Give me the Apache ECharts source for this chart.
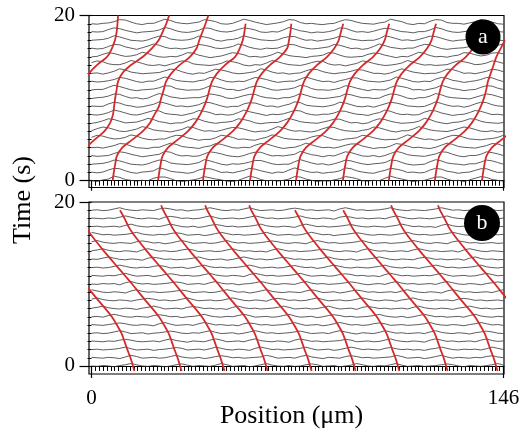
<!DOCTYPE html>
<html><head><meta charset="utf-8">
<script src="https://cdn.jsdelivr.net/npm/echarts/dist/echarts.min.js"></script>
<style>html,body{margin:0;padding:0;background:#fff}#c{width:523px;height:433px}</style>
</head><body><div id="c"></div>
<script>
// sample positions of every profile (µm)
const positions = [0,2,4,6,8,10,12,14,16,18,20,22,24,26,28,30,32,34,36,38,40,42,44,46,48,50,52,54,56,58,60,62,64,66,68,70,72,74,76,78,80,82,84,86,88,90,92,94,96,98,100,102,104,106,108,110,112,114,116,118,120,122,124,126,128,130,132,134,136,138,140,142,144,146];
const traceTimesA = [0,1,2,3,4,5,6,7,8,9,10,11,12,13,14,15,16,17,18,19];
const traceTimesB = [0,1,2,3,4,5,6,7,8,9,10,11,12,13,14,15,16,17,18,19];
// profile deviations (s) of panel a, one row per time
const tracesA = [
[0,-.1,.1,.2,.55,.4,.15,.05,-.05,.05,0,.3,.45,.45,.25,0,-.1,0,.1,.25,.5,.35,.2,.1,-.05,-.1,.05,.3,.55,.4,.15,0,.05,-.05,.05,.2,.5,.45,.2,.05,-.1,0,-.05,.1,.25,.5,.4,.25,0,-.05,.05,0,.3,.55,.35,.2,.05,-.1,0,.05,.25,.45,.45,.2,0,.05,-.1,.1,.3,.5,.4,.15,.05,-.05],
[.05,-.05,.05,.3,.5,.45,.2,0,-.1,.05,.1,.2,.55,.4,.15,.05,0,-.1,0,.3,.45,.45,.25,0,.05,-.05,.1,.25,.5,.4,.2,.05,-.1,.05,0,.3,.55,.35,.15,0,.05,-.1,0,.05,.2,.55,.45,.2,.05,-.05,-.1,.1,.25,.5,.4,.25,0,.05,-.05,0,.3,.5,.4,.15,.05,-.1,0,.05,.25,.45,.45,.2,0,.05],
[0,.05,.1,.25,.5,.4,.2,0,-.05,-.1,.05,.3,.5,.45,.15,.05,0,-.05,.05,.2,.55,.4,.2,0,-.1,.05,0,.1,.25,.45,.45,.25,.05,-.05,0,0,.3,.55,.35,.15,0,.05,-.1,.05,.25,.5,.4,.2,.05,-.05,.05,.1,.2,.5,.45,.2,0,-.1,-.05,0,.3,.55,.4,.15,.05,0,-.1,.05,.05,.25,.5,.4,.2,0],
[.05,-.05,0,.05,.3,.5,.4,.2,.05,-.1,0,.1,.2,.55,.45,.15,0,.05,-.05,0,.25,.5,.4,.25,.05,-.05,-.1,.05,.3,.45,.45,.2,0,.05,0,.1,.2,.55,.35,.15,.05,-.1,.05,0,.25,.5,.4,.2,0,-.05,.05,-.1,.05,.3,.55,.4,.15,.05,0,-.05,.1,.25,.5,.45,.2,0,-.1,.05,.05,.2,.5,.4,.25,.05],
[0,.05,-.05,.1,.25,.5,.45,.2,0,-.05,-.1,.05,.05,.3,.55,.4,.15,.05,0,-.1,.1,.2,.5,.4,.2,0,-.05,.05,0,.3,.5,.45,.25,.05,-.1,0,.05,.25,.55,.35,.15,0,.05,-.05,.1,.3,.45,.45,.2,.05,-.1,0,0,.2,.5,.4,.2,0,.05,-.05,-.1,.05,.3,.55,.4,.15,.05,0,-.05,.1,.25,.5,.45,.2],
[.25,.5,.4,.2,.05,.1,.25,.55,.4,.15,0,-.05,.05,.05,.3,.5,.45,.2,.05,-.1,0,0,.2,.5,.4,.25,0,.05,-.05,-.1,.1,.25,.55,.4,.15,.05,0,-.05,.05,.3,.45,.45,.2,0,-.1,.05,.1,.2,.5,.4,.2,.05,-.05,0,0,.25,.55,.35,.15,0,.05,-.1,.05,.3,.5,.45,.25,.05,0,-.05,.05,.1,.25,.5],
[.05,.3,.5,.4,.2,0,-.05,.1,.25,.55,.4,.15,.05,0,-.1,.05,.2,.5,.45,.2,0,.05,-.05,.1,.3,.45,.4,.25,.05,-.1,0,0,.25,.55,.4,.15,0,.05,-.05,-.1,.05,.3,.5,.45,.2,.05,0,-.05,.1,.2,.5,.4,.2,0,-.1,.05,.05,.25,.55,.35,.15,.05,0,-.05,.1,.3,.5,.4,.2,0,-.05,.05,-.1,0],
[-.05,.05,.25,.5,.4,.2,0,.05,.1,.3,.55,.4,.15,.05,-.1,0,0,.25,.5,.45,.2,.05,-.05,.05,.1,.2,.5,.4,.25,0,-.1,0,.05,.05,.3,.55,.35,.15,.05,0,-.05,.1,.25,.45,.45,.2,0,.05,-.1,0,.3,.5,.4,.2,.05,-.05,0,.05,.2,.55,.4,.15,0,-.1,.05,.1,.25,.5,.45,.2,.05,0,-.05,.05],
[0,-.05,.05,.25,.55,.4,.2,0,-.05,.1,.3,.5,.45,.15,.05,0,-.1,.05,.2,.5,.4,.25,0,.05,-.05,0,.25,.55,.35,.2,.05,-.1,.05,0,.1,.3,.5,.45,.15,0,-.05,.05,.05,.2,.45,.4,.2,.05,0,-.1,.1,.25,.55,.4,.15,0,.05,-.05,0,.3,.5,.45,.2,.05,-.1,0,.05,.25,.5,.4,.2,0,.05,-.05],
[.05,0,0,.3,.5,.4,.15,.05,-.1,-.05,.1,.25,.55,.4,.2,0,.05,-.05,.05,.2,.5,.45,.25,.05,-.1,0,0,.3,.45,.4,.2,0,.05,-.1,.1,.25,.55,.45,.15,.05,0,-.05,.05,.2,.5,.4,.2,0,-.05,.05,-.1,.1,.3,.5,.4,.25,.05,0,-.05,0,.25,.55,.35,.15,0,.05,-.1,.05,.3,.5,.45,.2,.05,0],
[-.05,.05,.1,.25,.5,.45,.2,0,.05,-.1,0,.3,.55,.4,.15,.05,-.05,0,.05,.05,.2,.5,.4,.25,0,-.05,.1,.3,.45,.45,.2,.05,0,-.1,.05,.05,.25,.55,.35,.15,0,-.05,0,.1,.2,.5,.4,.2,.05,.05,-.05,0,.3,.5,.45,.25,0,-.1,.05,.05,.25,.55,.4,.15,.05,0,-.05,-.1,.1,.3,.5,.4,.2,0],
[0,.05,.05,.3,.55,.4,.2,0,-.1,0,.05,.1,.25,.5,.45,.15,.05,-.05,0,0,.2,.5,.4,.25,.05,.05,-.1,.05,.3,.45,.4,.2,0,-.05,.05,.1,.25,.55,.45,.15,0,0,-.05,.05,.2,.5,.4,.2,.05,-.1,.05,0,0,.3,.5,.4,.25,0,.05,-.05,.1,.25,.55,.35,.15,.05,-.1,0,.05,.3,.5,.45,.2,.05],
[.05,-.05,0,.1,.25,.5,.4,.2,0,-.1,.05,.05,.3,.55,.4,.15,.05,0,-.05,.1,.2,.5,.45,.2,0,-.05,.05,0,.25,.5,.4,.25,.05,-.1,0,.05,.05,.3,.55,.35,.15,0,.05,-.1,.1,.25,.45,.45,.2,.05,0,-.05,.05,.2,.55,.4,.2,0,-.05,.05,0,.3,.5,.4,.15,.05,-.1,0,.1,.25,.5,.45,.2,0],
[0,.05,-.1,.05,.25,.55,.4,.15,.05,-.05,0,.05,.1,.3,.5,.45,.2,0,-.1,.05,0,.25,.5,.4,.25,.05,-.05,0,.1,.2,.55,.4,.15,0,.05,-.1,0,.05,.3,.5,.45,.2,.05,-.05,.05,.1,.25,.45,.4,.2,0,0,-.1,.05,.3,.55,.35,.15,.05,-.05,0,0,.2,.5,.45,.25,0,.05,-.05,.1,.25,.5,.4,.2],
[.3,.5,.4,.15,.05,.05,.25,.55,.4,.2,0,-.05,.05,-.1,.1,.3,.5,.45,.15,.05,0,-.05,.05,.2,.5,.4,.25,0,-.1,.05,0,.25,.55,.4,.2,.05,0,-.05,.1,.3,.45,.45,.15,0,.05,-.1,.05,.2,.5,.4,.2,.05,-.05,0,.1,.25,.55,.35,.15,0,.05,-.05,0,.05,.3,.5,.4,.25,.05,.1,.25,.5,.4,.2],
[0,.05,.3,.5,.4,.2,.05,.1,.25,.55,.4,.15,0,-.05,.05,0,.2,.5,.45,.2,.05,-.1,0,.1,.3,.5,.4,.25,0,.05,-.05,.05,.25,.55,.35,.15,.05,0,-.1,.05,.1,.2,.5,.45,.2,0,-.05,0,.05,.3,.45,.4,.2,.05,-.1,.05,0,.25,.55,.4,.15,0,.05,-.05,.1,.2,.5,.45,.25,.1,.2,.45,.5,.35],
[.05,-.05,0,.25,.5,.45,.2,.05,-.1,.1,.3,.55,.4,.15,0,.05,-.05,.05,.2,.5,.4,.25,.05,0,.1,.25,.55,.4,.15,0,-.1,.05,0,.05,.3,.5,.45,.2,.05,-.05,0,.1,.2,.5,.4,.2,0,.05,-.1,0,.25,.55,.35,.15,.05,-.05,.05,.05,.3,.5,.45,.2,0,-.1,0,.05,.1,.25,.5,.4,.3,.25,.4,.55],
[0,.05,.1,.25,.55,.4,.2,0,-.05,-.1,.05,.3,.5,.45,.15,.05,0,.05,.2,.5,.4,.25,0,-.1,.05,.1,.25,.55,.35,.2,.05,0,-.05,.05,.3,.45,.45,.2,0,.05,-.1,0,.1,.25,.5,.4,.15,.05,-.05,0,0,.2,.55,.4,.2,0,.05,-.05,.1,.3,.5,.45,.25,.05,-.1,0,.05,.25,.5,.4,.15,0,.05,-.05],
[.05,0,.05,.3,.5,.4,.2,.05,-.1,0,.05,.1,.25,.55,.4,.15,0,-.05,.05,.2,.5,.45,.2,.05,0,.1,.3,.5,.4,.25,0,-.05,.05,0,.25,.55,.35,.15,.05,-.1,0,-.05,.05,.2,.5,.45,.2,0,.05,-.05,.1,.3,.45,.4,.2,.05,0,-.1,.05,.05,.25,.55,.4,.15,0,-.05,.05,.1,.2,.5,.45,.25,.05,0],
[0,-.05,.05,.1,.25,.5,.45,.2,0,-.1,.05,.05,.3,.55,.4,.15,.05,0,.1,.2,.5,.4,.25,0,-.05,.05,.3,.55,.4,.2,.05,-.1,0,.1,.25,.5,.45,.15,0,.05,-.05,-.1,0,.05,.3,.5,.4,.2,.05,0,-.05,.1,.2,.55,.4,.25,0,-.1,.05,0,.3,.5,.45,.15,.05,.05,-.05,.1,.25,.5,.4,.2,0,-.05]
];
// profile deviations (s) of panel b, one row per time
const tracesB = [
[0,-.05,.05,0,-.1,.05,.15,.3,.15,0,-.05,.05,0,-.1,0,.15,.25,.1,-.05,.05,0,-.05,.1,.3,.15,-.05,0,.05,-.1,0,.15,.3,.1,0,-.05,.05,-.05,0,.15,.25,.15,-.05,0,.05,-.1,0,.1,.3,.15,0,-.05,.05,0,.15,.3,.1,-.05,0,.05,-.05,0,.05,.15,.25,.15,0,-.1,.05,0,-.05,.05,.15,.3,.1],
[.05,0,-.05,.05,0,-.1,.1,.3,.15,-.05,0,.05,-.05,0,.15,.3,.1,0,-.05,.05,-.1,0,.15,.25,.15,0,.05,-.05,0,.05,.1,.3,.15,-.05,0,.05,-.05,.15,.3,.1,0,-.1,.05,0,-.05,.15,.25,.15,0,.05,-.05,0,.05,.1,.3,.15,-.05,0,.05,-.1,0,.15,.3,.1,-.05,.05,0,-.05,.05,0,.15,.25,.1,0],
[0,.05,-.05,0,.05,.15,.3,.1,-.05,0,.05,-.1,0,.05,.15,.25,.15,-.05,0,.05,-.05,.1,.3,.15,0,-.05,.05,0,-.1,.15,.3,.15,0,.05,-.05,0,.05,.15,.3,.1,-.05,0,.05,-.1,0,.15,.3,.15,0,.05,0,-.05,.15,.25,.1,0,.05,-.05,0,-.1,.05,.15,.3,.15,0,-.05,.05,0,.05,-.05,.1,.3,.15,0],
[.05,0,-.05,.05,0,.15,.25,.15,0,-.05,0,.05,-.05,.15,.3,.1,0,-.1,.05,0,-.05,.15,.3,.15,-.05,0,.05,-.05,.15,.3,.1,0,-.05,.05,0,-.1,.15,.3,.15,0,.05,-.05,0,.05,.1,.25,.15,-.05,0,.05,-.05,0,.15,.3,.1,0,-.05,.05,0,-.1,.15,.3,.15,0,.05,-.05,0,.05,-.05,.15,.3,.1,0,.05],
[0,.05,-.05,0,.15,.3,.15,-.05,0,.05,-.1,0,.05,.15,.25,.15,0,-.05,.05,0,.15,.3,.1,-.05,0,.05,-.1,0,.15,.3,.15,0,.05,-.05,0,.05,.15,.25,.1,-.05,0,.05,-.05,.15,.3,.15,0,-.1,.05,0,-.05,.1,.3,.15,0,.05,-.05,0,.05,-.05,.15,.3,.1,0,-.05,.05,0,-.1,.05,.15,.25,.15,0,-.05],
[.05,0,-.05,.05,.15,.25,.15,0,-.05,.05,0,-.1,.15,.3,.1,-.05,0,.05,-.05,.15,.3,.15,0,.05,-.05,0,-.1,.15,.25,.15,0,.05,-.05,0,.05,.15,.3,.1,-.05,0,.05,-.1,0,.15,.3,.15,0,.05,-.05,0,.15,.25,.15,-.05,0,.05,-.05,0,.05,.15,.3,.1,0,-.05,.05,0,-.1,.05,.15,.3,.15,0,.05,-.05],
[0,.05,-.05,.15,.3,.15,0,-.05,.05,0,-.05,.15,.25,.15,0,.05,-.1,0,.05,.15,.3,.1,0,-.05,.05,0,.15,.3,.15,-.05,0,.05,-.05,0,.15,.3,.1,-.05,0,.05,-.1,0,.15,.25,.15,0,.05,-.05,0,.05,.15,.3,.1,0,-.05,.05,-.1,0,.15,.3,.15,0,.05,-.05,0,.05,-.05,.15,.3,.1,0,-.05,.05,0],
[.05,.15,.3,.1,0,-.05,.05,0,-.1,.05,.15,.3,.15,-.05,0,.05,-.05,.15,.25,.15,0,.05,-.05,0,-.1,.15,.3,.1,0,.05,-.05,0,.05,.15,.3,.15,-.05,0,.05,-.05,0,.15,.3,.1,-.05,0,.05,-.1,.15,.25,.15,0,.05,-.05,0,.05,-.05,.15,.3,.1,0,-.05,.05,0,-.1,.05,.15,.3,.15,0,.05,-.05,0,.05],
[.15,.3,.1,0,-.05,.05,0,-.1,.05,.15,.25,.15,0,.05,-.05,0,.15,.3,.1,-.05,0,.05,-.05,0,.15,.3,.15,0,-.05,.05,0,-.1,.15,.25,.15,0,.05,-.05,0,.15,.3,.1,-.05,0,.05,-.05,0,.15,.3,.15,0,-.05,.05,0,-.1,.05,.15,.3,.1,0,-.05,.05,0,.05,-.05,.15,.25,.15,0,.05,-.05,0,.05,-.05],
[.3,.15,0,-.05,.05,0,-.1,.15,.3,.1,0,.05,-.05,0,.05,.15,.25,.15,-.05,0,.05,-.05,0,.15,.3,.15,0,.05,-.1,0,.15,.3,.1,0,-.05,.05,0,-.05,.15,.3,.15,-.05,0,.05,-.1,0,.15,.25,.15,0,.05,-.05,0,.05,-.05,.15,.3,.1,0,-.05,.05,0,-.1,.15,.3,.15,0,.05,-.05,0,.05,-.05,.15,.3],
[0,-.05,.05,0,.05,-.1,.15,.3,.1,0,.05,-.05,0,.05,.15,.25,.15,-.05,0,.05,-.05,.15,.3,.1,0,.05,-.1,0,.05,.15,.3,.15,0,-.05,.05,0,-.05,.15,.3,.1,0,.05,-.05,0,.05,.15,.25,.15,0,-.1,0,.05,-.05,.15,.3,.1,0,.05,-.05,0,.05,-.05,.15,.3,.15,0,-.05,.05,0,-.1,.05,.15,.25,.15],
[.05,0,-.05,.05,0,.15,.3,.1,-.05,0,.05,-.1,0,.15,.25,.15,0,.05,-.05,0,.15,.3,.1,0,-.05,.05,0,-.1,.15,.3,.15,0,.05,-.05,0,.05,.15,.3,.1,-.05,0,.05,-.05,0,.15,.25,.15,0,.05,-.05,0,-.1,.15,.3,.15,0,.05,-.05,0,.05,0,.15,.3,.1,-.05,0,.05,-.05,0,.15,.3,.15,0,.05],
[0,.05,-.05,0,.15,.3,.15,0,-.05,.05,0,.15,.25,.15,-.05,0,.05,-.1,0,.15,.3,.1,0,.05,-.05,0,.05,.15,.3,.15,-.05,0,.05,-.05,0,.15,.25,.1,0,.05,-.1,0,.15,.3,.15,0,-.05,.05,0,-.05,.05,.15,.3,.1,0,-.05,.05,0,-.1,.05,.15,.3,.15,0,.05,-.05,0,.05,.15,.3,.1,0,-.05,.05],
[.05,0,.15,.3,.15,0,-.05,.05,0,-.1,.15,.25,.15,0,.05,-.05,0,.05,.15,.3,.1,-.05,0,.05,-.1,0,.15,.3,.15,0,.05,-.05,0,.15,.25,.15,0,.05,-.05,0,.05,.15,.3,.1,0,-.05,.05,-.1,0,.05,.15,.3,.15,0,-.05,.05,0,-.05,.15,.25,.15,0,.05,-.05,0,.05,-.1,.15,.3,.1,0,.05,-.05,0],
[.05,.15,.3,.1,0,-.05,.05,0,-.1,.15,.3,.15,0,.05,-.05,0,.15,.25,.15,-.05,0,.05,-.05,0,.15,.3,.1,0,.05,-.05,0,-.1,.15,.3,.15,0,.05,-.05,0,.05,.15,.25,.15,0,-.05,.05,0,-.1,.15,.3,.1,0,.05,-.05,0,.05,-.05,.15,.3,.15,0,.05,-.05,0,.05,-.1,.15,.3,.15,0,-.05,.05,0,-.05],
[.15,.3,.1,0,-.05,.05,0,-.05,.15,.25,.15,0,.05,-.1,0,.15,.3,.15,-.05,0,.05,-.05,0,.15,.3,.1,0,.05,-.05,0,.05,.15,.25,.15,0,-.05,.05,0,-.1,.15,.3,.15,0,.05,-.05,0,.05,.15,.3,.1,-.05,0,.05,-.05,0,.05,.15,.3,.15,0,-.05,.05,0,-.1,.15,.25,.15,0,.05,-.05,0,.05,-.05,0],
[.3,.15,0,.05,-.05,0,.05,.15,.3,.1,0,-.05,.05,0,.15,.25,.15,-.05,0,.05,-.1,0,.15,.3,.15,0,.05,-.05,0,.05,.15,.3,.1,-.05,0,.05,-.05,0,.15,.3,.15,0,.05,-.1,0,.05,.15,.25,.15,0,-.05,.05,0,-.05,.05,.15,.3,.1,0,.05,-.05,0,.05,.15,.3,.15,0,-.05,.05,0,-.1,.05,0,.05],
[0,.05,-.05,0,.05,-.05,.15,.3,.1,0,-.05,.05,0,.15,.3,.15,0,-.05,.05,-.1,0,.15,.25,.15,0,.05,-.05,0,.05,.15,.3,.1,0,-.05,.05,0,-.1,.15,.3,.15,0,.05,-.05,0,.05,.15,.25,.1,0,-.05,.05,0,-.05,.05,.15,.3,.15,0,.05,-.05,0,-.1,.15,.3,.1,0,.05,-.05,0,.05,-.05,0,.05,0],
[.05,0,-.05,.05,0,.15,.3,.15,0,-.05,.05,0,-.1,.15,.25,.15,0,.05,-.05,0,.15,.3,.1,-.05,0,.05,-.05,0,.15,.3,.15,0,.05,-.05,0,.05,.15,.3,.1,0,-.05,.05,0,-.1,.15,.25,.15,0,.05,-.05,0,.05,-.05,.15,.3,.15,0,-.05,.05,0,-.05,.05,.15,.3,.1,0,-.05,.05,0,-.05,.05,0,-.05,.05],
[0,.05,-.05,0,.15,.3,.1,0,-.05,.05,0,-.05,.15,.25,.15,0,.05,-.1,0,.05,.15,.3,.15,0,-.05,.05,0,.15,.3,.1,-.05,0,.05,-.05,0,.15,.25,.15,0,.05,-.05,0,.05,-.1,.15,.3,.15,0,.05,-.05,0,.05,.15,.3,.1,0,-.05,.05,0,-.05,.05,.15,.3,.15,0,.05,-.05,0,.05,-.1,0,.05,-.05,0]
];
// red fronts, panel a: times (s) and position (µm) of each front at those times
const redTimesA = [0,1,2,3,4,5,6,7,8,9,10,11,12,13,14,15,16,17,18,19,20];
const redPosA = [
[null,null,null,null,null,null,null,null,null,null,null,null,-2.7,-0.9,1.9,5.5,7.2,8.3,8.9,9.2,9.4],
[null,null,null,null,-2.0,1.2,4.6,6.6,7.6,8.0,8.4,8.9,9.4,10.9,14.0,18.2,21.3,23.8,25.2,26.5,27.5],
[7.5,7.9,8.4,9.0,10.9,14.6,18.2,20.7,22.3,23.9,24.7,25.6,26.4,28.3,31.2,34.9,37.2,38.2,39.3,40.4,41.4],
[23.6,24.0,24.5,25.2,27.1,30.7,34.2,36.7,38.5,39.9,41.0,41.8,42.7,44.5,47.3,50.9,52.5,53.6,54.2,54.6,null],
[39.5,39.9,40.4,41.1,43.0,46.6,50.1,52.6,54.4,55.8,56.9,57.7,58.6,60.4,63.2,66.8,69.3,70.0,70.5,70.8,null],
[56.2,56.6,57.1,57.8,59.7,63.3,66.8,69.3,71.1,72.5,73.6,74.4,75.3,77.1,79.9,83.5,86.0,87.6,88.4,89.2,null],
[72.5,72.9,73.4,74.1,76.0,79.6,83.1,85.6,87.4,88.8,89.9,90.7,91.6,93.4,96.2,99.8,102.3,103.9,104.7,105.5,null],
[89.1,89.5,90.0,90.7,92.6,96.2,99.7,102.2,104.0,105.4,106.5,107.3,108.2,110.0,112.8,116.4,118.9,120.5,121.3,122.1,null],
[105.4,105.8,106.3,107.0,108.9,112.5,116.0,118.5,120.3,121.7,122.8,123.6,124.5,126.3,129.1,132.7,135.2,136.8,137.6,138.4,null],
[121.7,122.1,122.6,123.3,125.2,128.8,132.3,134.8,136.6,138.0,139.1,139.9,140.5,141.5,142.5,143.5,145.0,146.5,null,null,null],
[138.4,138.8,139.3,140.0,141.9,145.5,149.0,null,null,null,null,null,null,null,null,null,null,null,null,null,null]
];
// red fronts, panel b
const redTimesB = [-0.6,0,1,2,3,4,5,6,7,8,9,10,11,12,13,14,15,16,17,18,19,19.6];
const redPosB = [
[15.2,14.7,13.8,12.7,11.7,10.6,9.0,7.2,4.9,2.4,0.0,-2.3,null,null,null,null,null,null,null,null,null,null],
[31.9,31.4,30.5,29.4,28.4,27.3,25.7,23.9,21.6,19.1,16.7,14.4,11.9,9.4,6.9,4.4,2.1,-0.2,-2.1,null,null,null],
[47.1,46.6,45.7,44.6,43.6,42.5,40.9,39.1,36.8,34.3,31.9,29.6,27.1,24.6,22.1,19.6,17.3,15.0,13.1,11.7,10.1,null],
[62.4,61.9,61.0,59.9,58.9,57.8,56.2,54.4,52.1,49.6,47.2,44.9,42.4,39.9,37.4,34.9,32.6,30.3,28.4,27.0,25.4,24.7],
[78.0,77.5,76.6,75.5,74.5,73.4,71.8,70.0,67.7,65.2,62.8,60.5,58.0,55.5,53.0,50.5,48.2,45.9,44.0,42.6,41.0,40.3],
[93.6,93.1,92.2,91.1,90.1,89.0,87.4,85.6,83.3,80.8,78.4,76.1,73.6,71.1,68.6,66.1,63.8,61.5,59.6,58.2,56.6,55.9],
[109.1,108.6,107.7,106.6,105.6,104.5,102.9,101.1,98.8,96.3,93.9,91.6,89.1,86.6,84.1,81.6,79.3,77.0,75.1,73.7,72.1,null],
[126.2,125.7,124.8,123.7,122.7,121.6,120.0,118.2,115.9,113.4,111.0,108.7,106.2,103.7,101.2,98.7,96.4,94.1,92.2,90.8,89.2,null],
[143.9,143.4,142.5,141.4,140.4,139.3,137.7,135.9,133.6,131.1,128.7,126.4,123.9,121.4,118.9,116.4,114.1,111.8,109.9,108.5,106.9,106.2],
[null,null,null,null,null,null,null,null,150.2,147.7,145.3,143.0,140.5,138.0,135.5,133.0,130.7,128.4,126.5,125.1,123.5,122.8]
];
const yTickLabels = [0, 20];
const xTickLabels = [0, 146];
const panelLetters = ['a', 'b'];

const SERIF = '"Liberation Serif","DejaVu Serif",serif';
const xMinor = [];
for (let i = 0; i <= 107; i++) xMinor.push(i * 146 / 107);
const yMinor = [];
for (let i = 1; i < 20; i++) yMinor.push(i);

const chart = echarts.init(document.getElementById('c'), null, {renderer: 'canvas'});

const grids = [
  {left: 89, top: 15.5, width: 415, height: 172, show: true, borderColor: '#000', borderWidth: 1.2, backgroundColor: 'transparent'},
  {left: 89, top: 202, width: 415, height: 172, show: true, borderColor: '#000', borderWidth: 1.2, backgroundColor: 'transparent'}
];
const yMins = [-0.82, -0.98];
const xAxes = [], yAxes = [];
[0, 1].forEach(g => {
  xAxes.push({type: 'value', gridIndex: g, min: -0.89, max: 146.2, position: 'bottom', offset: 1.5,
    axisLine: {show: true, lineStyle: {color: '#000', width: 1}},
    axisTick: {show: true, customValues: xMinor, length: 5, lineStyle: {color: '#000', width: 1}},
    axisLabel: {show: false}, splitLine: {show: false}});
  xAxes.push({type: 'value', gridIndex: g, min: -0.89, max: 146.2, position: 'bottom', offset: 1.5,
    axisLine: {show: false},
    axisTick: {show: true, customValues: xTickLabels, length: g === 0 ? 10 : 12, lineStyle: {color: '#000', width: 1.2}},
    axisLabel: {show: g === 1, customValues: xTickLabels, fontFamily: SERIF, fontSize: 21, color: '#000', margin: 12},
    splitLine: {show: false}});
  yAxes.push({type: 'value', gridIndex: g, min: yMins[g], max: 20, position: 'left',
    axisLine: {show: false},
    axisTick: {show: true, customValues: yTickLabels, length: 12, lineStyle: {color: '#000', width: 1.2}},
    axisLabel: {show: true, customValues: yTickLabels, fontFamily: SERIF, fontSize: 21, color: '#000', margin: 14},
    splitLine: {show: false}});
  yAxes.push({type: 'value', gridIndex: g, min: yMins[g], max: 20, position: 'left',
    axisLine: {show: false},
    axisTick: {show: true, customValues: yMinor, length: 4, lineStyle: {color: '#000', width: 1}},
    axisLabel: {show: false}, splitLine: {show: false}});
});

const series = [];
function addPanel(g, times, traces, redTimes, redPos) {
  traces.forEach((row, k) => {
    series.push({type: 'line', xAxisIndex: g * 2, yAxisIndex: g * 2, symbol: 'none', silent: true,
      lineStyle: {color: '#333', width: 0.8}, z: 2,
      data: row.map((v, i) => [positions[i], times[k] + v])});
  });
  redPos.forEach(row => {
    const d = [];
    row.forEach((x, i) => { if (x !== null) d.push([x, redTimes[i]]); });
    series.push({type: 'line', xAxisIndex: g * 2, yAxisIndex: g * 2, symbol: 'none', silent: true,
      smooth: 0.35, lineStyle: {color: '#d42a2a', width: 1.8}, z: 3, data: d});
  });
}
addPanel(0, traceTimesA, tracesA, redTimesA, redPosA);
addPanel(1, traceTimesB, tracesB, redTimesB, redPosB);

chart.setOption({
  animation: false,
  backgroundColor: '#fff',
  grid: grids,
  xAxis: xAxes,
  yAxis: yAxes,
  series: series,
  graphic: [
    {type: 'circle', shape: {cx: 483, cy: 37, r: 17.5}, style: {fill: '#000'}, z: 100},
    {type: 'text', x: 483, y: 37, z: 101, style: {text: panelLetters[0], fill: '#fff', font: '22px ' + SERIF, textAlign: 'center', textVerticalAlign: 'middle'}},
    {type: 'circle', shape: {cx: 482, cy: 223, r: 18}, style: {fill: '#000'}, z: 100},
    {type: 'text', x: 482, y: 223, z: 101, style: {text: panelLetters[1], fill: '#fff', font: '22px ' + SERIF, textAlign: 'center', textVerticalAlign: 'middle'}},
    {type: 'text', x: 23, y: 200, rotation: Math.PI / 2, style: {text: 'Time (s)', fill: '#000', font: '26px ' + SERIF, textAlign: 'center', textVerticalAlign: 'middle'}},
    {type: 'text', x: 291.5, y: 416.5, style: {text: 'Position (\u03bcm)', fill: '#000', font: '26px ' + SERIF, textAlign: 'center', textVerticalAlign: 'middle'}}
  ]
});
</script></body></html>
